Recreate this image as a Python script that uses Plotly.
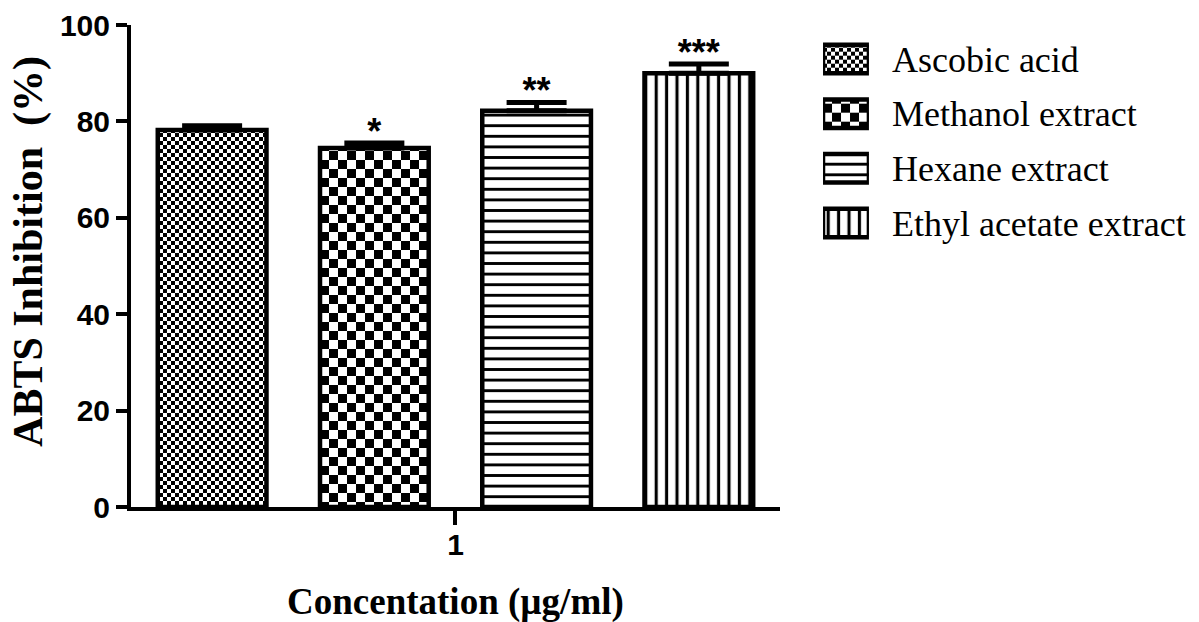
import plotly.graph_objects as go

# ABTS radical scavenging at 1 µg/ml, mean with upper error
dose = ["1"]
groups = ["Ascobic acid", "Methanol extract", "Hexane extract", "Ethyl acetate extract"]
inhibition = [78.2, 74.5, 82.2, 90.0]
error = [0.9, 1.0, 1.7, 1.9]
stars = ["", "*", "**", "***"]
key_len = [1]  # length of each legend key bar on its own hidden axis
STAR_PAD = 1.7  # gap between error cap and significance marks, in axis units


def checker(cell):
    s = 2 * cell
    return f"M0,0H{cell}V{cell}H0Z M{cell},{cell}H{s}V{s}H{cell}Z"


fills = [
    dict(path=checker(4), size=8),
    dict(path=checker(9), size=18),
    dict(shape="-", size=10.6, solidity=0.27),
    dict(shape="|", size=10.4, solidity=0.3),
]

SERIF = "Liberation Serif"
SANS = "Liberation Sans"

fig = go.Figure()

for name, val, err, fill in zip(groups, inhibition, error, fills):
    fig.add_trace(go.Bar(
        x=dose, y=[val], name=name,
        marker=dict(color="white", line=dict(color="black", width=4.5),
                    pattern=dict(fgcolor="black", bgcolor="white", fillmode="replace", **fill)),
        error_y=dict(type="data", symmetric=False, array=[err], arrayminus=[0],
                     color="black", thickness=5, width=30),
        hoverinfo="skip",
    ))

for val, err, st in zip(inhibition, error, stars):
    fig.add_trace(go.Scatter(
        x=dose, y=[val + err + STAR_PAD], mode="text", text=[st], textposition="middle center",
        textfont=dict(family=SANS, size=36, color="black", weight="bold"),
        cliponaxis=False, hoverinfo="skip",
    ))

# legend keys: one short horizontal bar per group, labelled by the category axis
for name, fill in zip(groups, fills):
    fig.add_trace(go.Bar(
        x=key_len, y=[name], orientation="h", xaxis="x2", yaxis="y2",
        width=0.52, offsetgroup="key",
        marker=dict(color="white", line=dict(color="black", width=4.5),
                    pattern=dict(fgcolor="black", bgcolor="white", fillmode="replace", **fill)),
        hoverinfo="skip",
    ))

fig.update_layout(
    width=1199, height=622,
    margin=dict(l=131, r=5, t=25, b=115),
    paper_bgcolor="white", plot_bgcolor="white",
    showlegend=False,
    barmode="group", bargap=0, bargroupgap=0.33,
    scattermode="group", scattergap=0,
    xaxis=dict(
        domain=[0, 0.6105], type="category", range=[-0.5, 0.5],
        showline=True, linecolor="black", linewidth=4,
        ticks="outside", ticklen=14, tickwidth=4, tickcolor="black",
        ticklabelstandoff=-6,
        showgrid=False, zeroline=False,
        tickfont=dict(family=SANS, size=30, color="black", weight="bold"),
    ),
    yaxis=dict(
        range=[0, 100], tickvals=[0, 20, 40, 60, 80, 100],
        showline=True, linecolor="black", linewidth=4,
        ticks="outside", ticklen=11, tickwidth=4, tickcolor="black",
        showgrid=False, zeroline=False,
        tickfont=dict(family=SANS, size=30, color="black", weight="bold"),
    ),
    xaxis2=dict(domain=[0.651, 0.6942], range=[0, 1], anchor="y2", visible=False),
    yaxis2=dict(
        domain=[0.5326, 0.9861], anchor="x2", type="category",
        categoryorder="array", categoryarray=groups, range=[3.5, -0.5],
        side="right", showline=False, ticks="", showgrid=False, zeroline=False,
        ticklabelstandoff=22,
        tickfont=dict(family=SERIF, size=36, color="black"),
    ),
    annotations=[
        dict(text="ABTS Inhibition\u00a0 (%)", textangle=-90,
             xref="paper", yref="paper", x=-0.097, y=0.531,
             xanchor="center", yanchor="middle", showarrow=False,
             font=dict(family=SERIF, size=42, color="black", weight="bold")),
        dict(text="Concentation (µg/ml)",
             xref="x domain", yref="paper", x=0.5, y=-0.197,
             xanchor="center", yanchor="middle", showarrow=False,
             font=dict(family=SERIF, size=37, color="black", weight="bold")),
    ],
)

fig.write_html("out.html")
